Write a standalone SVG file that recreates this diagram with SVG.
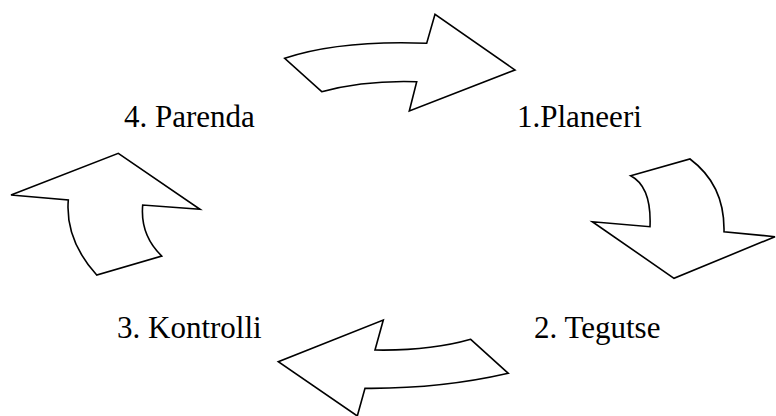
<svg xmlns="http://www.w3.org/2000/svg" width="776" height="416" viewBox="0 0 776 416">
<style>
.arr{fill:#fff;stroke:#000;stroke-width:1.6;stroke-linejoin:miter}
.lbl{font-family:"Liberation Serif","Times New Roman",serif;font-size:31px;fill:#000}
</style>
<rect width="776" height="416" fill="#fff"/>
<g id="connectors">
<path id="arrow-top" class="arr" d="M284.7,58.3 Q340,40 426.7,43.3 L435,14.3 L515,70 L409.3,111 L416.7,81.7 Q365,80 321.7,91.7 Z"/>
<path id="arrow-right" class="arr" d="M630.7,175.7 L690,159 Q725,185 724,231.7 L775,236.7 L674,278.3 L592.3,221.7 L650,226.7 Q651.7,186.7 630.7,175.7 Z"/>
<path id="arrow-bottom" class="arr" d="M470.7,339.3 L508.3,373.3 Q440,389 365,388.3 L357.3,416 L278.3,361.7 L383.3,320 L375,350 Q430,351 470.7,339.3 Z"/>
<path id="arrow-left" class="arr" d="M118.3,153.3 L200,209.3 L142.7,205 Q140,235 161.7,256 L96.7,275 Q65,240 68.3,200 L11,195 Z"/>
</g>
<g id="n1"><text class="lbl" x="517" y="127">1.Planeeri</text></g>
<g id="n2"><text class="lbl" x="534" y="338">2. Tegutse</text></g>
<g id="n3"><text class="lbl" x="117" y="338">3. Kontrolli</text></g>
<g id="n4"><text class="lbl" x="124" y="127">4. Parenda</text></g>
</svg>
